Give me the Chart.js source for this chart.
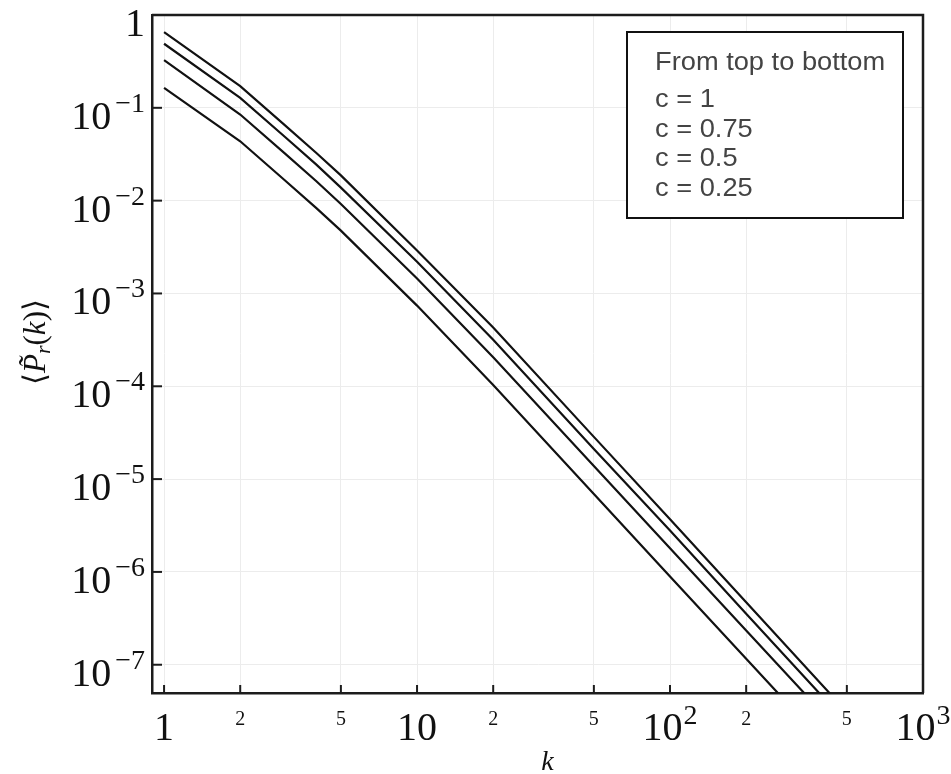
<!DOCTYPE html>
<html>
<head>
<meta charset="utf-8">
<title>P_r(k)</title>
<script src="https://cdn.jsdelivr.net/npm/chart.js@4.4.1/dist/chart.umd.min.js"></script>
<style>
  html, body { margin: 0; padding: 0; background: #fff; }
  canvas { display: block; }
</style>
</head>
<body>
<canvas id="chart" width="951" height="774"></canvas>
<script>
// values
const kValues = [1, 2, 3, 4, 5, 10, 20, 50, 100, 200, 500]
const c100 = [0.654, 0.171, 0.0652, 0.0326, 0.0187, 0.0029, 4.3e-4, 2.85e-5, 3.7e-6, 4.7e-7, 3.1e-8]
const c075 = [0.49, 0.128, 0.0488, 0.0244, 0.0138, 0.0022, 3.17e-4, 2.11e-5, 2.8e-6, 3.55e-7, 2.35e-8]
const c050 = [0.326, 0.0847, 0.0323, 0.0162, 0.0092, 0.00145, 2.05e-4, 1.38e-5, 1.8e-6, 2.34e-7, 1.58e-8]
const c025 = [0.164, 0.0436, 0.0166, 0.0083, 0.00475, 7.4e-4, 1.03e-4, 6.9e-6, 8.9e-7, 1.16e-7, 7.8e-9]
const seriesValues = [c100, c075, c050, c025]

const xTickValues = [1, 2, 5, 10, 20, 50, 100, 200, 500, 1000]
const xTickLabels = ['1', '2', '5', '10', '2', '5', '10^2', '2', '5', '10^3']
const yTickValues = [1, 1e-1, 1e-2, 1e-3, 1e-4, 1e-5, 1e-6, 1e-7]
const yTickLabels = ['1', '10^−1', '10^−2', '10^−3', '10^−4', '10^−5', '10^−6', '10^−7']

const legendTitle = 'From top to bottom'
const legendLines = ['c = 1', 'c = 0.75', 'c = 0.5', 'c = 0.25']

const frameColor = '#1c1c1c'
const gridColor = '#ececec'
const serif = '"Liberation Serif", "DejaVu Serif", serif'

// "10^3" style label: base text plus raised exponent
function drawPower(ctx, label, x, y, align, baseSize, supSize, raise, gap) {
	const parts = label.split('^')
	ctx.font = `${baseSize}px ${serif}`
	const wb = ctx.measureText(parts[0]).width
	let we = 0
	if (parts[1]) {
		ctx.font = `${supSize}px ${serif}`
		we = ctx.measureText(parts[1]).width + gap
	}
	const left = align === 'right' ? x - wb - we : x - (wb + we) / 2
	ctx.font = `${baseSize}px ${serif}`
	ctx.fillText(parts[0], left, y)
	if (parts[1]) {
		ctx.font = `${supSize}px ${serif}`
		ctx.fillText(parts[1], left + wb + gap, y - raise)
	}
}

function line(ctx, x1, y1, x2, y2) {
	ctx.beginPath()
	ctx.moveTo(x1, y1)
	ctx.lineTo(x2, y2)
	ctx.stroke()
}

const decor = {
	id: 'decor',
	afterDraw(chart) {
		const { ctx, chartArea: a, scales } = chart
		const xs = scales.x
		const ys = scales.y
		ctx.save()

		// top and right side of the frame
		ctx.strokeStyle = frameColor
		ctx.lineWidth = 2.5
		ctx.beginPath()
		ctx.moveTo(a.left, a.top)
		ctx.lineTo(a.right, a.top)
		ctx.lineTo(a.right, a.bottom)
		ctx.stroke()

		// inward tick marks
		ctx.lineWidth = 2
		xTickValues.forEach(v => {
			const px = xs.getPixelForValue(v)
			line(ctx, px, a.bottom, px, a.bottom - 8)
		})
		yTickValues.forEach(v => {
			const py = ys.getPixelForValue(v)
			line(ctx, a.left, py, a.left + 10, py)
		})

		// tick labels
		ctx.fillStyle = '#111'
		ctx.textAlign = 'left'
		ctx.textBaseline = 'alphabetic'
		xTickValues.forEach((v, i) => {
			const px = xs.getPixelForValue(v)
			const major = Number.isInteger(Math.log10(v))
			if (major) drawPower(ctx, xTickLabels[i], px, a.bottom + 47, 'center', 40, 28, 16, 1)
			else drawPower(ctx, xTickLabels[i], px, a.bottom + 32, 'center', 20, 20, 0, 0)
		})
		yTickValues.forEach((v, i) => {
			const py = ys.getPixelForValue(v)
			drawPower(ctx, yTickLabels[i], 145, py + 21, 'right', 40, 28, 17, 4)
		})

		// x axis title
		ctx.font = `italic 28px ${serif}`
		ctx.textAlign = 'center'
		ctx.fillText('k', (a.left + a.right) / 2 + 10, 770)

		// y axis title, rotated
		const pieces = [
			{ t: '⟨', f: `31px ${serif}`, dy: 0 },
			{ t: 'P\u0303', f: `italic 31px ${serif}`, dy: 0 },
			{ t: 'r', f: `italic 22px ${serif}`, dy: 5 },
			{ t: '(', f: `31px ${serif}`, dy: 0 },
			{ t: 'k', f: `italic 31px ${serif}`, dy: 0 },
			{ t: ')', f: `31px ${serif}`, dy: 0 },
			{ t: '⟩', f: `31px ${serif}`, dy: 0 }
		]
		ctx.translate(45, 342)
		ctx.rotate(-Math.PI / 2)
		ctx.textAlign = 'left'
		let total = 0
		pieces.forEach(p => {
			ctx.font = p.f
			p.w = ctx.measureText(p.t).width
			total += p.w
		})
		let cx = -total / 2
		pieces.forEach(p => {
			ctx.font = p.f
			ctx.fillText(p.t, cx, p.dy)
			cx += p.w
		})
		ctx.restore()

		// legend box
		ctx.save()
		ctx.fillStyle = '#fff'
		ctx.fillRect(627, 32, 276, 186)
		ctx.strokeStyle = '#111'
		ctx.lineWidth = 2
		ctx.strokeRect(627, 32, 276, 186)
		ctx.fillStyle = '#444'
		ctx.textAlign = 'left'
		ctx.font = '25px "Liberation Sans", Arial, sans-serif'
		const sx = 1.09
		ctx.scale(sx, 1)
		ctx.fillText(legendTitle, 655 / sx, 70)
		legendLines.forEach((s, i) => {
			ctx.fillText(s, 655 / sx, 107 + i * 29.7)
		})
		ctx.restore()
	}
}

const ctx = document.getElementById('chart').getContext('2d')

new Chart(ctx, {
	type: 'line',
	data: {
		datasets: seriesValues.map((vals, i) => ({
			label: legendLines[i],
			data: kValues.map((k, j) => ({ x: k, y: vals[j] })),
			borderColor: '#111',
			borderWidth: 2.2,
			pointRadius: 0,
			tension: 0,
			fill: false
		}))
	},
	options: {
		responsive: false,
		animation: false,
		events: [],
		layout: { padding: { top: 15, right: 28, left: 0, bottom: 0 } },
		plugins: {
			legend: { display: false },
			tooltip: { enabled: false }
		},
		scales: {
			x: {
				type: 'logarithmic',
				min: 0.896,
				max: 1000,
				afterBuildTicks: s => { s.ticks = xTickValues.map(v => ({ value: v })) },
				afterFit: s => { s.height = 81 },
				ticks: { display: false },
				grid: { color: gridColor, lineWidth: 1, drawTicks: false },
				border: { display: true, color: frameColor, width: 2.5 }
			},
			y: {
				type: 'logarithmic',
				min: 4.96e-8,
				max: 1,
				afterBuildTicks: s => { s.ticks = yTickValues.map(v => ({ value: v })) },
				afterFit: s => { s.width = 152 },
				ticks: { display: false },
				grid: { color: gridColor, lineWidth: 1, drawTicks: false },
				border: { display: true, color: frameColor, width: 2.5 }
			}
		}
	},
	plugins: [decor]
})
</script>
</body>
</html>
